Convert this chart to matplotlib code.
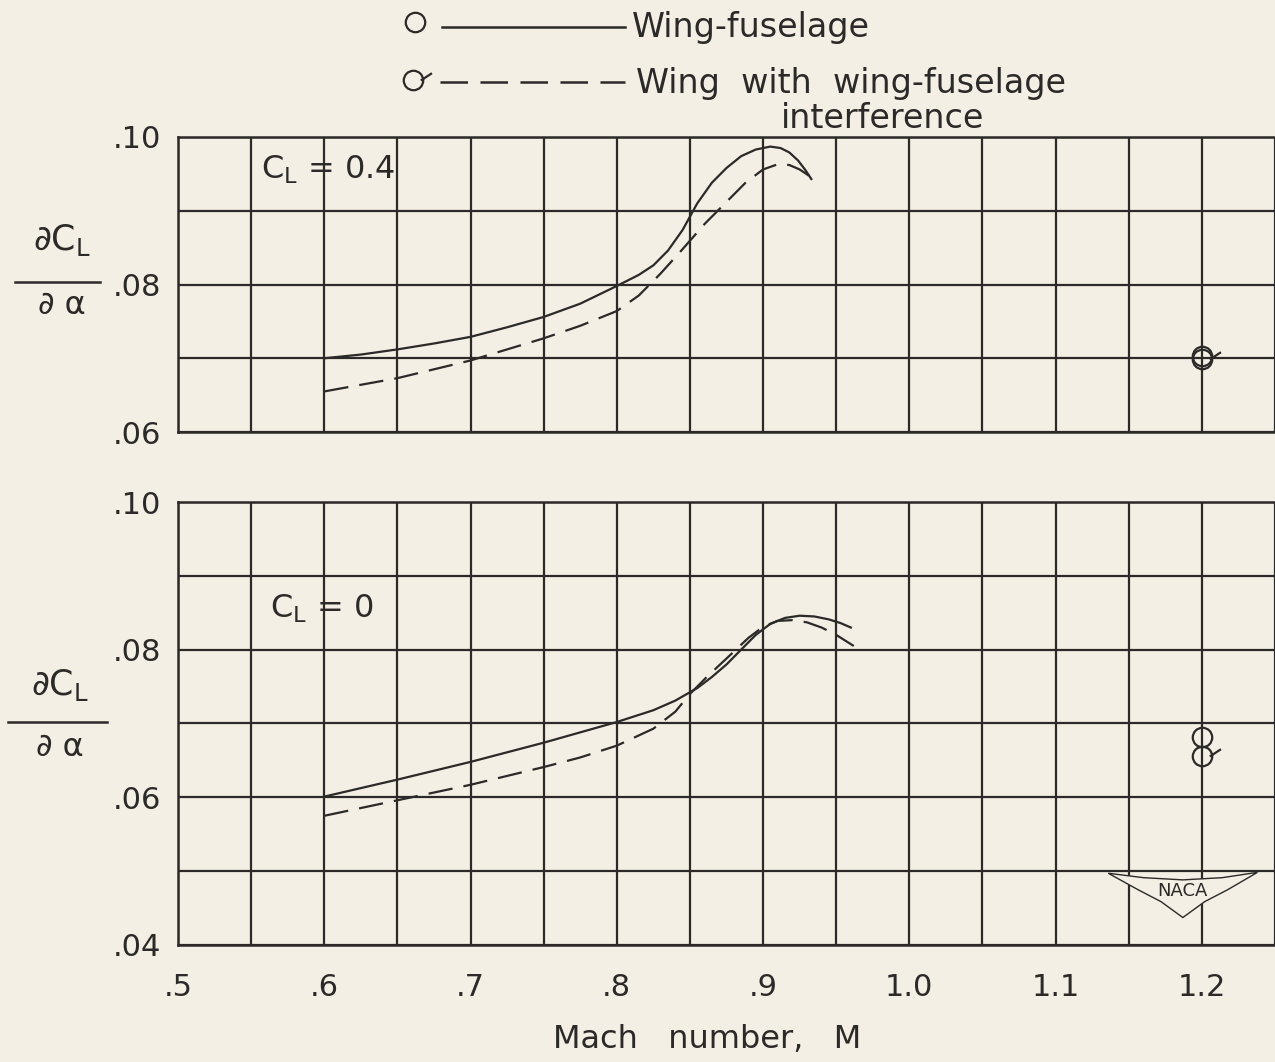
import matplotlib
matplotlib.use("Agg")
import matplotlib.pyplot as plt
from matplotlib.path import Path
from matplotlib.lines import Line2D
from matplotlib.patches import Polygon
import numpy as np

# ---------------- data ----------------
mach_ticks = [0.5, 0.6, 0.7, 0.8, 0.9, 1.0, 1.1, 1.2]
mach_tick_labels = [".5", ".6", ".7", ".8", ".9", "1.0", "1.1", "1.2"]

# C_L = 0.4 panel
top_wf_mach = [0.60, 0.625, 0.65, 0.675, 0.70, 0.725, 0.75, 0.775, 0.80, 0.815,
               0.825, 0.835, 0.845, 0.85, 0.855, 0.865, 0.875, 0.885, 0.895,
               0.905, 0.912, 0.918, 0.924, 0.929, 0.933]
top_wf_val = [0.0700, 0.0705, 0.0712, 0.0720, 0.0729, 0.0742, 0.0756, 0.0774,
              0.0798, 0.0813, 0.0826, 0.0846, 0.0874, 0.0892, 0.0910, 0.0938,
              0.0958, 0.0974, 0.0983, 0.0987, 0.0985, 0.0979, 0.0968, 0.0955,
              0.0943]
top_wi_mach = [0.60, 0.625, 0.65, 0.675, 0.70, 0.725, 0.75, 0.775, 0.80, 0.815,
               0.83, 0.845, 0.86, 0.875, 0.888, 0.90, 0.91, 0.918, 0.925, 0.931,
               0.936]
top_wi_val = [0.0655, 0.0664, 0.0673, 0.0685, 0.0697, 0.0712, 0.0727, 0.0744,
              0.0764, 0.0785, 0.0815, 0.0848, 0.0882, 0.0912, 0.0938, 0.0956,
              0.0963, 0.0962, 0.0956, 0.0948, 0.0940]
top_pt_mach = [1.2]
top_pt_wf = [0.0703]
top_pt_wi = [0.0699]

# C_L = 0 panel
bot_wf_mach = [0.60, 0.65, 0.70, 0.75, 0.80, 0.825, 0.84, 0.855, 0.865, 0.875,
               0.885, 0.895, 0.905, 0.915, 0.925, 0.935, 0.945, 0.953, 0.96]
bot_wf_val = [0.0601, 0.0624, 0.0648, 0.0674, 0.0702, 0.0718, 0.0731, 0.0748,
              0.0763, 0.0780, 0.0800, 0.0820, 0.0835, 0.0843, 0.0846, 0.0845,
              0.0841, 0.0836, 0.0830]
bot_wi_mach = [0.60, 0.65, 0.70, 0.75, 0.775, 0.80, 0.825, 0.84, 0.85, 0.862,
               0.875, 0.89, 0.90, 0.91, 0.92, 0.93, 0.94, 0.95, 0.962]
bot_wi_val = [0.0575, 0.0596, 0.0617, 0.0641, 0.0654, 0.0670, 0.0693, 0.0716,
              0.0740, 0.0764, 0.0788, 0.0816, 0.0831, 0.0839, 0.0840, 0.0837,
              0.0830, 0.0820, 0.0805]
bot_pt_mach = [1.2]
bot_pt_wf = [0.0682]
bot_pt_wi = [0.0656]

# ---------------- style ----------------
PAPER = "#f3efe4"
INK = "#2b2a28"
FONT = "DejaVu Sans"
plt.rcParams["font.family"] = [FONT]

# flagged circle marker
circ = Path.unit_circle()
flag_verts = np.concatenate([circ.vertices, [[0.75, 0.0], [1.9, 0.75]]])
flag_codes = np.concatenate([circ.codes, [Path.MOVETO, Path.LINETO]])
FLAG = Path(flag_verts, flag_codes)
MS = 14
MS_FLAG = MS * 1.9

fig = plt.figure(figsize=(12.75, 10.62), dpi=100)
fig.patch.set_facecolor(PAPER)

W, H = 1275.0, 1062.0
left = 178 / W
width = (W - 178) / W
ax1 = fig.add_axes([left, 1 - 432 / H, width, (432 - 137) / H])
ax2 = fig.add_axes([left, 1 - 945 / H, width, (945 - 502) / H])

xmax = 0.5 + (W - 178) / 1475.0

for ax, ylo, yhi, ylabels in [(ax1, 0.06, 0.10, [0.06, 0.08, 0.10]),
                              (ax2, 0.04, 0.10, [0.04, 0.06, 0.08, 0.10])]:
    ax.set_facecolor(PAPER)
    ax.set_xlim(0.5, xmax)
    ax.set_ylim(ylo, yhi)
    ax.xaxis.remove_overlapping_locs = False
    ax.yaxis.remove_overlapping_locs = False
    ax.set_xticks(np.arange(0.5, 1.26, 0.05), minor=True)
    ax.set_yticks(np.arange(ylo, yhi + 1e-9, 0.01), minor=True)
    ax.set_yticks(ylabels)
    ax.set_yticklabels([("%.2f" % v)[1:] for v in ylabels], fontsize=22, color=INK)
    ax.grid(which="minor", color=INK, lw=1.6)
    ax.tick_params(which="both", length=0, pad=12)
    for s in ["left", "top", "bottom"]:
        ax.spines[s].set_color(INK)
        ax.spines[s].set_linewidth(1.8)
    ax.spines["right"].set_visible(False)

ax1.set_xticks(mach_ticks)
ax1.set_xticklabels([])
ax2.set_xticks(mach_ticks)
ax2.set_xticklabels(mach_tick_labels, fontsize=22, color=INK)
ax2.tick_params(axis="x", pad=20)

DASH = (0, (11, 5))
for ax, wfm, wfv, wim, wiv, pm, pwf, pwi in [
        (ax1, top_wf_mach, top_wf_val, top_wi_mach, top_wi_val, top_pt_mach, top_pt_wf, top_pt_wi),
        (ax2, bot_wf_mach, bot_wf_val, bot_wi_mach, bot_wi_val, bot_pt_mach, bot_pt_wf, bot_pt_wi)]:
    ax.plot(wfm, wfv, color=INK, lw=1.6, zorder=3, solid_joinstyle="round")
    ax.plot(wim, wiv, color=INK, lw=1.6, ls=DASH, zorder=3)
    ax.plot(pm, pwf, ls="none", marker="o", ms=MS, mfc="none", mec=INK, mew=1.6, zorder=4)
    ax.plot(pm, pwi, ls="none", marker=FLAG, ms=MS_FLAG, mfc="none", mec=INK, mew=1.6, zorder=4)

# panel annotations
ax1.text(0.076, 0.89, r"C$_\mathregular{L}$ = 0.4", transform=ax1.transAxes,
         fontsize=23, color=INK, va="center", ha="left")
ax2.text(0.084, 0.76, r"C$_\mathregular{L}$ = 0", transform=ax2.transAxes,
         fontsize=23, color=INK, va="center", ha="left")

# NACA logo
wing = Polygon([[0.848, 0.162], [0.880, 0.152], [0.916, 0.147], [0.952, 0.152],
                [0.984, 0.164], [0.957, 0.125], [0.936, 0.098], [0.916, 0.062],
                [0.896, 0.098], [0.875, 0.125]],
               closed=True, transform=ax2.transAxes, facecolor=PAPER,
               edgecolor=INK, lw=1.0, zorder=5)
ax2.add_patch(wing)
ax2.text(0.916, 0.122, "NACA", transform=ax2.transAxes, fontsize=13,
         color=INK, ha="center", va="center", zorder=6)

# y-axis fraction labels
def frac_label(cx, ynum, yline, yden, x0, x1):
    fig.text(cx / W, 1 - ynum / H, r"∂C$_\mathregular{L}$", fontsize=25,
             color=INK, ha="center", va="center")
    fig.add_artist(Line2D([x0 / W, x1 / W], [1 - yline / H, 1 - yline / H],
                          color=INK, lw=1.8))
    fig.text(cx / W, 1 - yden / H, "∂ α", fontsize=23, color=INK,
             ha="center", va="center")

frac_label(62, 240, 282, 306, 15, 100)
frac_label(60, 685, 722, 748, 8, 107)

# x label
fig.text(707 / W, 1 - 1040 / H, "Mach   number,   M", fontsize=23, color=INK,
         ha="center", va="center")

# legend
fig.add_artist(Line2D([415 / W], [1 - 22 / H], marker="o", ms=MS, mfc="none",
                      mec=INK, mew=1.6, ls="none"))
fig.add_artist(Line2D([442 / W, 625 / W], [1 - 27 / H, 1 - 27 / H], color=INK, lw=1.8))
fig.text(632 / W, 1 - 28 / H, "Wing-fuselage", fontsize=24, color=INK,
         ha="left", va="center")
fig.add_artist(Line2D([413 / W], [1 - 80 / H], marker=FLAG, ms=MS_FLAG, mfc="none",
                      mec=INK, mew=1.6, ls="none"))
fig.add_artist(Line2D([440 / W, 625 / W], [1 - 82 / H, 1 - 82 / H], color=INK,
                      lw=1.8, ls=DASH))
fig.text(636 / W, 1 - 83 / H, "Wing  with  wing-fuselage", fontsize=24,
         color=INK, ha="left", va="center")
fig.text(883 / W, 1 - 118 / H, "interference", fontsize=24, color=INK,
         ha="center", va="center")

fig.savefig("out.png", dpi=100, facecolor=PAPER)
